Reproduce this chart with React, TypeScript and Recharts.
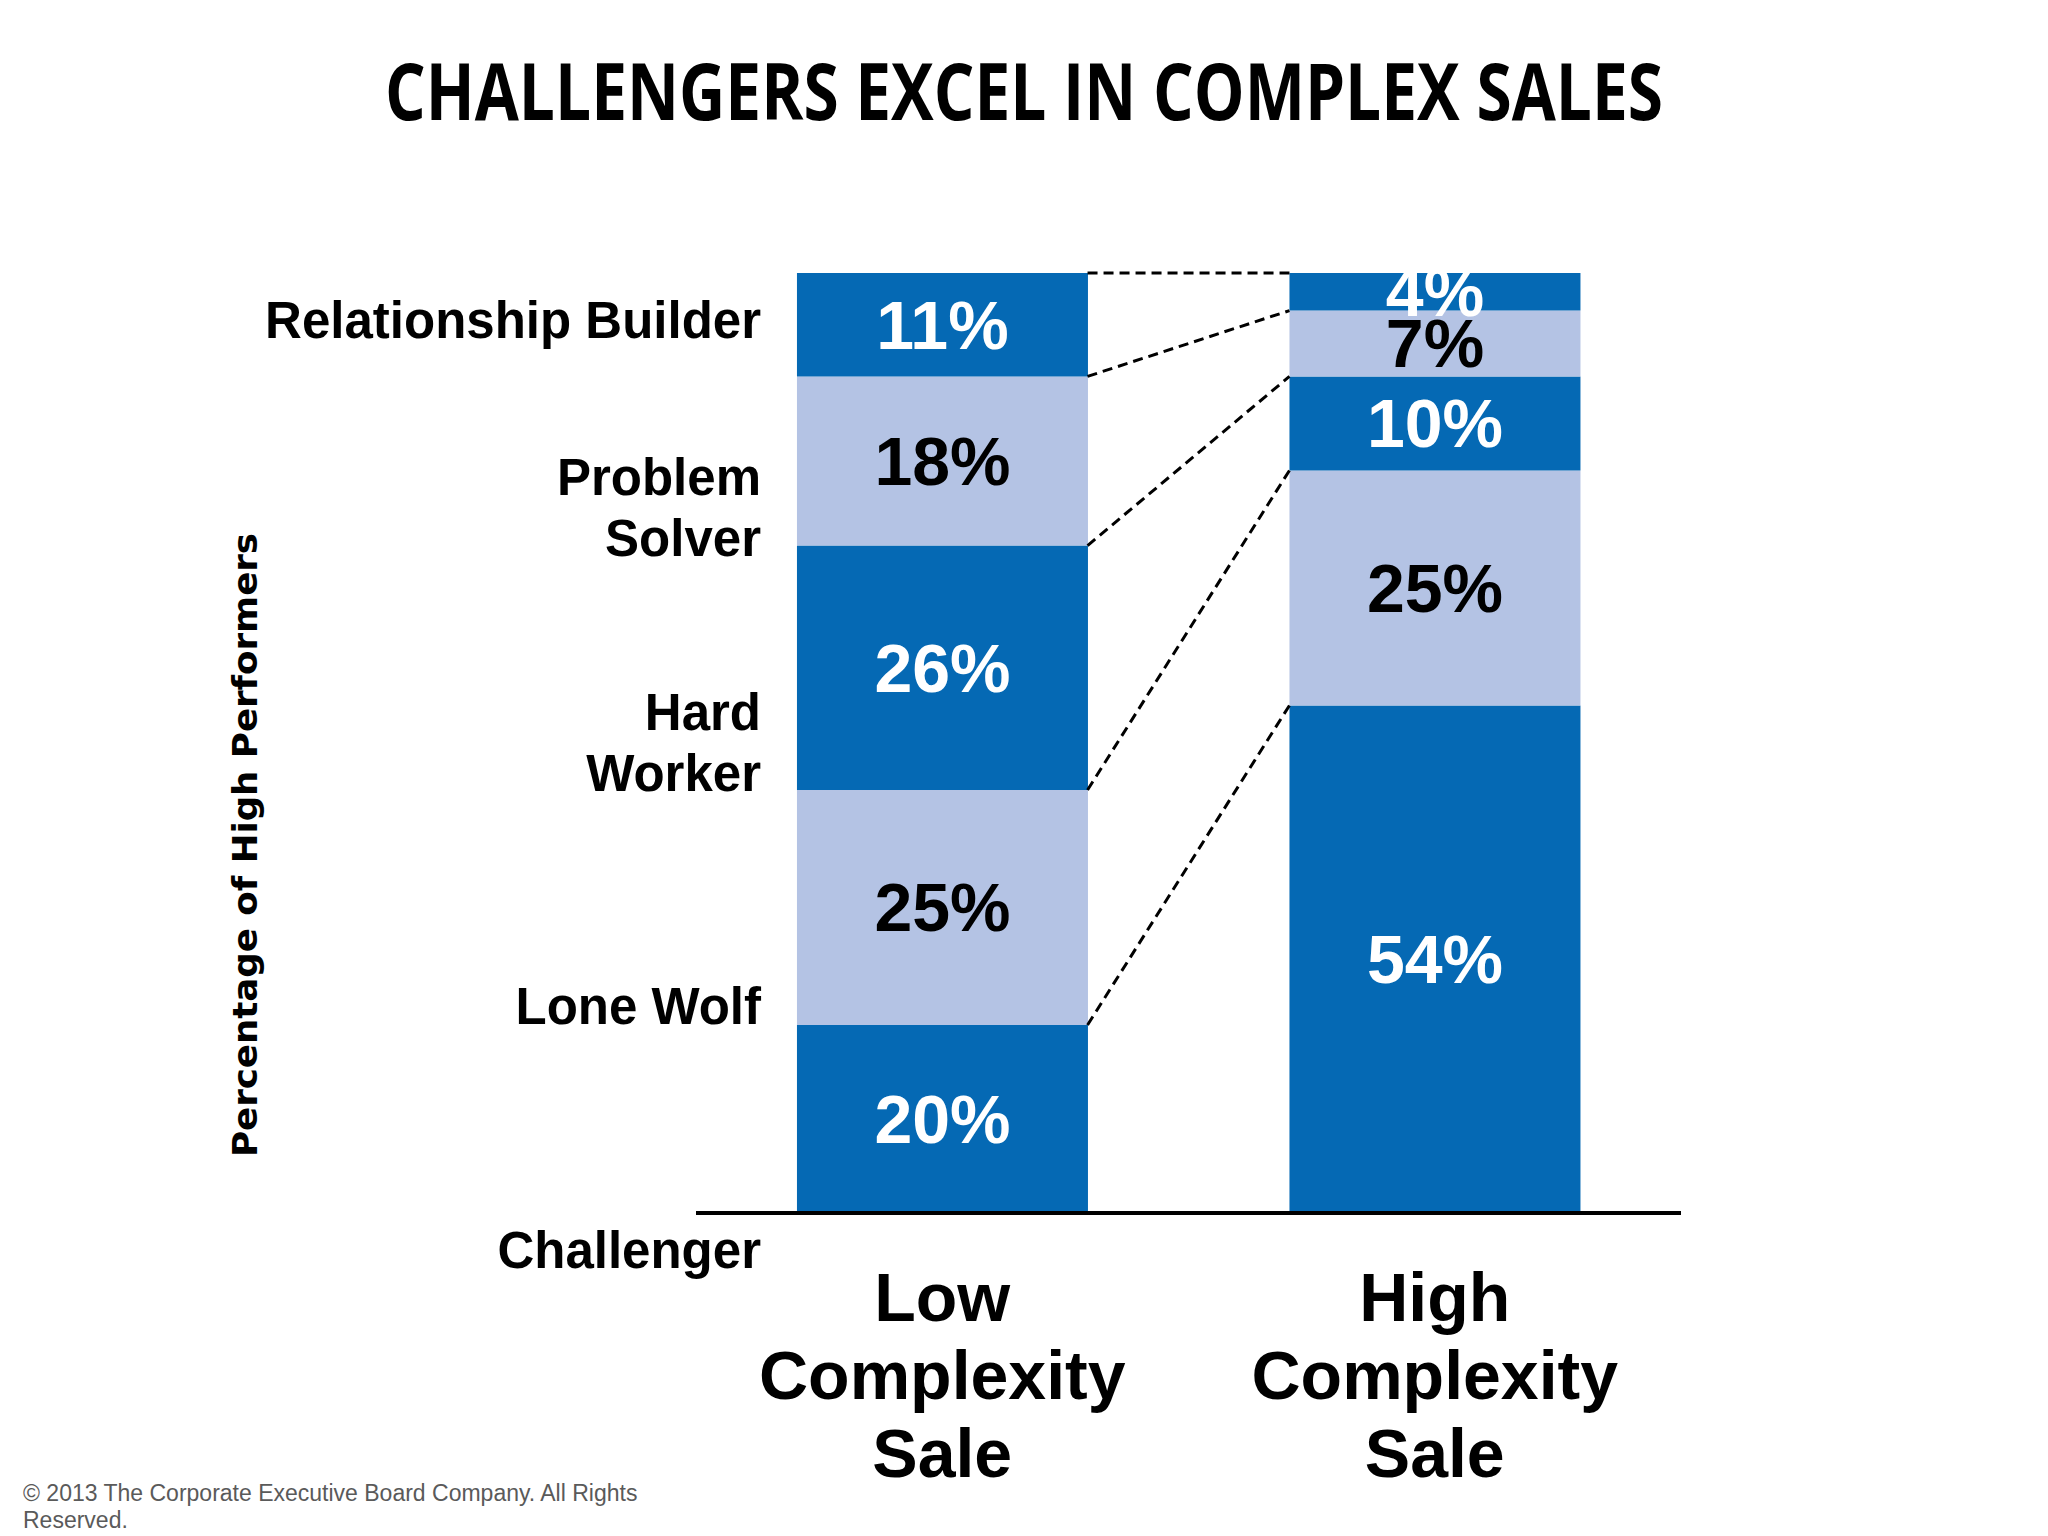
import { BarChart, Bar, XAxis, YAxis, LabelList, ReferenceLine } from 'recharts'

// categories along the x axis (line breaks = wrapped tick label)
const categories = ['Low\nComplexity\nSale', 'High\nComplexity\nSale']

// share of high performers per rep type, bottom to top of each stack
const challenger = [20, 54]
const loneWolf = [25, 25]
const hardWorker = [26, 10]
const problemSolver = [18, 7]
const relationshipBuilder = [11, 4]

// left-hand type labels and where they sit on the 0-100 scale
const typeLabels = ['Challenger', 'Lone Wolf', 'Hard\nWorker', 'Problem\nSolver', 'Relationship Builder']
const typeTickValues = [-4, 22, 50, 75, 95]

const DARK = '#0569b4'
const LIGHT = '#b4c3e4'
const FONT = '"Liberation Sans", Arial, Helvetica, sans-serif'
const GAP = 0.205 // barCategoryGap as a fraction of the band

const series = [
    { key: 'challenger', values: challenger, fill: DARK, text: '#ffffff' },
    { key: 'loneWolf', values: loneWolf, fill: LIGHT, text: '#000000' },
    { key: 'hardWorker', values: hardWorker, fill: DARK, text: '#ffffff' },
    { key: 'problemSolver', values: problemSolver, fill: LIGHT, text: '#000000' },
    { key: 'relationshipBuilder', values: relationshipBuilder, fill: DARK, text: '#ffffff' },
]

const data = categories.map((name, i) => {
    const row: Record<string, string | number> = { name }
    series.forEach(s => { row[s.key] = s.values[i] })
    return row
})

// running totals -> the segment boundaries the dashed connectors join
const boundaries = series.map((_, k) =>
    series.slice(0, k + 1).reduce((acc, s) => [acc[0] + s.values[0], acc[1] + s.values[1]], [0, 0])
)

function TypeTick(props: any) {
    const { x, y, payload } = props
    const idx = typeTickValues.indexOf(payload.value)
    if (idx < 0) return null
    const lines = typeLabels[idx].split('\n')
    const tx = x + 65
    return (
        <text x={tx} y={y} textAnchor="end" fontFamily={FONT} fontWeight="bold" fontSize={51} fill="#000">
            {lines.map((l, i) => (
                <tspan key={i} x={tx} y={y + (i - (lines.length - 1) / 2) * 61} dy="0.35em">{l}</tspan>
            ))}
        </text>
    )
}

function CategoryTick(props: any) {
    const { x, y, payload } = props
    const lines = String(payload.value).split('\n')
    return (
        <text x={x} y={y} textAnchor="middle" fontFamily={FONT} fontWeight="bold" fontSize={68} fill="#000">
            {lines.map((l, i) => (
                <tspan key={i} x={x} y={y + 108 + i * 78}>{l}</tspan>
            ))}
        </text>
    )
}

const makeLabel = (color: string, clipTop: boolean, key: string) => (props: any) => {
    const vb = props.viewBox ?? props
    const { x, y, width, height } = vb
    const id = `clip-${key}-${props.index}`
    return (
        <g>
            {clipTop && (
                <defs>
                    <clipPath id={id}>
                        <rect x={x} y={y} width={width} height={2000} />
                    </clipPath>
                </defs>
            )}
            <text
                x={x + width / 2}
                y={y + height / 2}
                dy="0.35em"
                textAnchor="middle"
                fontFamily={FONT}
                fontWeight="bold"
                fontSize={68}
                fill={color}
                clipPath={clipTop ? `url(#${id})` : undefined}
            >
                {`${props.value}%`}
            </text>
        </g>
    )
}

export default function App() {
    return (
        <div style={{ position: 'relative', width: 2048, height: 1536, background: '#fff', overflow: 'hidden' }}>
            <style>{'body{margin:0}'}</style>
            <div style={{ position: 'absolute', left: 0, top: 0 }}>
                <BarChart
                    width={2048}
                    height={1536}
                    data={data}
                    margin={{ top: 273, right: 367, bottom: 0, left: 0 }}
                    barCategoryGap={`${GAP * 100}%`}
                >
                    <XAxis
                        dataKey="name"
                        height={323}
                        axisLine={{ stroke: '#000', strokeWidth: 4 }}
                        tickLine={false}
                        tickSize={0}
                        tickMargin={0}
                        interval={0}
                        tick={(p: any) => <CategoryTick {...p} />}
                    />
                    {/* hidden linear axis over the same width: one unit per category band */}
                    <XAxis
                        xAxisId="conn"
                        dataKey="connX"
                        type="number"
                        scale="linear"
                        domain={[0, categories.length]}
                        allowDataOverflow
                        hide
                    />
                    <YAxis
                        type="number"
                        domain={[0, 100]}
                        width={696}
                        ticks={typeTickValues}
                        interval={0}
                        axisLine={false}
                        tickLine={false}
                        tickSize={0}
                        tickMargin={0}
                        tick={(p: any) => <TypeTick {...p} />}
                    />
                    {series.map((s, k) => (
                        <Bar key={s.key} dataKey={s.key} stackId="a" fill={s.fill} isAnimationActive={false}>
                            <LabelList dataKey={s.key} content={makeLabel(s.text, k === series.length - 1, s.key)} />
                        </Bar>
                    ))}
                    {boundaries.map((b, k) => (
                        <ReferenceLine
                            key={k}
                            xAxisId="conn"
                            ifOverflow="visible"
                            segment={[{ x: 1 - GAP, y: b[0] }, { x: 1 + GAP, y: b[1] }]}
                            stroke="#000"
                            strokeWidth={3}
                            strokeDasharray="10 6"
                        />
                    ))}
                </BarChart>
            </div>
            <svg width={2048} height={1536} style={{ position: 'absolute', left: 0, top: 0, pointerEvents: 'none' }}>
                <text
                    x={1024}
                    y={120}
                    textAnchor="middle"
                    fontFamily='"Open Sans", "Noto Sans", sans-serif'
                    fontWeight="bold"
                    fontSize={79}
                    textLength={1278}
                    lengthAdjust="spacingAndGlyphs"
                    fill="#000"
                >
                    CHALLENGERS EXCEL IN COMPLEX SALES
                </text>
                <text
                    transform="translate(257, 845) rotate(-90)"
                    textAnchor="middle"
                    fontFamily='"DejaVu Sans", Verdana, sans-serif'
                    fontWeight="bold"
                    fontSize={34}
                    textLength={624}
                    lengthAdjust="spacingAndGlyphs"
                    fill="#000"
                >
                    Percentage of High Performers
                </text>
            </svg>
            <div
                style={{
                    position: 'absolute',
                    left: 23,
                    top: 1480,
                    fontFamily: FONT,
                    fontSize: 23,
                    lineHeight: '27px',
                    color: '#5a5a5a',
                    whiteSpace: 'nowrap',
                }}
            >
                © 2013 The Corporate Executive Board Company. All Rights
                <br />
                Reserved.
            </div>
        </div>
    )
}
